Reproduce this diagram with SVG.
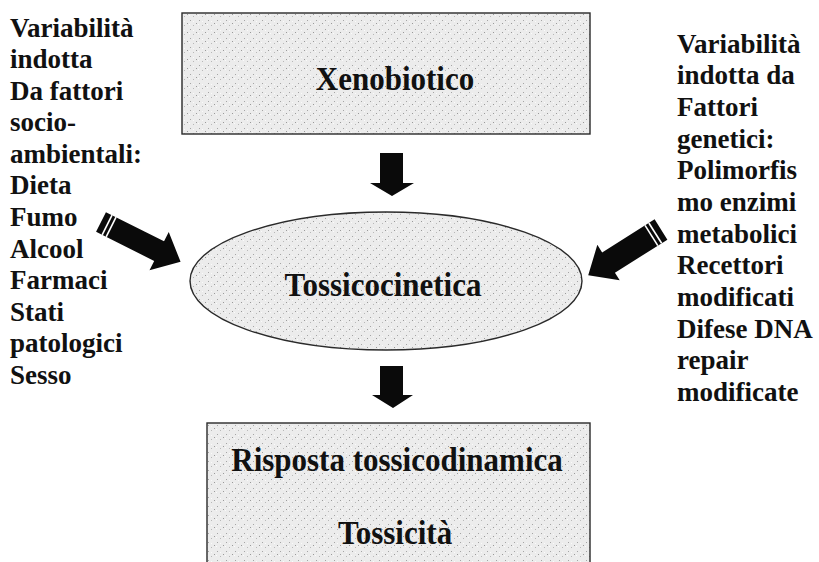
<svg xmlns="http://www.w3.org/2000/svg" width="819" height="562" viewBox="0 0 819 562">
<style>
.side{font-family:"Liberation Serif","Times New Roman",serif;font-weight:bold;font-size:27px;fill:#111}
.main{font-family:"Liberation Serif","Times New Roman",serif;font-weight:bold;font-size:31px;fill:#111;text-anchor:middle}
.shape{fill:url(#speck);stroke:#2a2a2a;stroke-width:1.4}
.arrow{fill:#0a0a0a}
.stripe{fill:#fff}
</style>
<defs>
<pattern id="speck" width="9" height="9" patternUnits="userSpaceOnUse">
<rect width="9" height="9" fill="#ececec"/>
<rect x="1" y="2" width="1" height="1" fill="#a5a5a5"/>
<rect x="7" y="5" width="1" height="1" fill="#9a9a9a"/>
<rect x="4" y="7" width="1" height="1" fill="#b8b8b8"/>
<rect x="4" y="3" width="1" height="1" fill="#fafafa"/>
<rect x="0" y="6" width="1" height="1" fill="#fafafa"/>
</pattern>
</defs>
<rect width="819" height="562" fill="#fff"/>

<g id="xenobiotico">
<rect class="shape" x="182" y="13" width="408" height="121"/>
<text class="main" transform="translate(395,90) scale(1,1.12)">Xenobiotico</text>
</g>

<g id="tossicocinetica">
<ellipse class="shape" cx="386" cy="281" rx="196" ry="69"/>
<text class="main" transform="translate(383,296) scale(1,1.12)">Tossicocinetica</text>
</g>

<g id="risposta">
<rect class="shape" x="207" y="423" width="383" height="150"/>
<text class="main" transform="translate(397,471) scale(1,1.12)">Risposta tossicodinamica</text>
<text class="main" transform="translate(395,544) scale(1,1.12)">Tossicità</text>
</g>

<g id="fattori-socioambientali">
<text class="side" x="10" y="37">Variabilità</text>
<text class="side" x="10" y="68">indotta</text>
<text class="side" x="10" y="100">Da fattori</text>
<text class="side" x="10" y="131">socio-</text>
<text class="side" x="10" y="163">ambientali:</text>
<text class="side" x="10" y="194">Dieta</text>
<text class="side" x="10" y="226">Fumo</text>
<text class="side" x="10" y="258">Alcool</text>
<text class="side" x="10" y="289">Farmaci</text>
<text class="side" x="10" y="321">Stati</text>
<text class="side" x="10" y="352">patologici</text>
<text class="side" x="10" y="384">Sesso</text>
</g>

<g id="fattori-genetici">
<text class="side" x="677" y="53">Variabilità</text>
<text class="side" x="677" y="84">indotta da</text>
<text class="side" x="677" y="116">Fattori</text>
<text class="side" x="677" y="148">genetici:</text>
<text class="side" x="677" y="179">Polimorfis</text>
<text class="side" x="677" y="211">mo enzimi</text>
<text class="side" x="677" y="243">metabolici</text>
<text class="side" x="677" y="274">Recettori</text>
<text class="side" x="677" y="306">modificati</text>
<text class="side" x="677" y="338">Difese DNA</text>
<text class="side" x="677" y="369">repair</text>
<text class="side" x="677" y="401">modificate</text>
</g>

<g id="connectors">
<polygon class="arrow" points="380,153 403,153 403,183 414,183 392,196 370,183 380,183"/>
<polygon class="arrow" points="380,366 403,366 403,395 413,395 393,408 372,395 380,395"/>
<g transform="translate(101,222) rotate(26.6)">
<polygon class="arrow" points="0,-11 65,-11 65,-21.5 89,0 65,21.5 65,11 0,11"/>
<rect class="stripe" x="6" y="-11" width="1.6" height="22"/>
<rect class="stripe" x="10.5" y="-11" width="1.6" height="22"/>
</g>
<g transform="translate(661,229.5) rotate(147.8)">
<polygon class="arrow" points="0,-12 62,-12 62,-21 86,0 62,21 62,12 0,12"/>
<rect class="stripe" x="6" y="-12" width="1.6" height="24"/>
<rect class="stripe" x="10.5" y="-12" width="1.6" height="24"/>
</g>
</g>
</svg>
